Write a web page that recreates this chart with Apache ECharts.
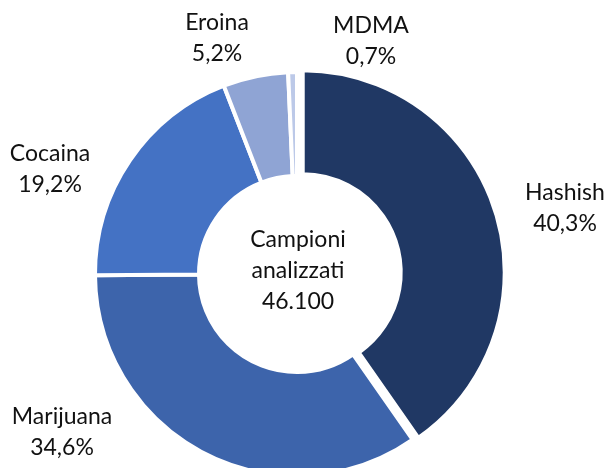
<!DOCTYPE html>
<html>
<head>
<meta charset="utf-8">
<script src="https://cdn.jsdelivr.net/npm/echarts@6/dist/echarts.min.js"></script>
<style>
  html, body { margin: 0; padding: 0; background: #fff; }
  #chart { width: 605px; height: 468px; }
</style>
</head>
<body>
<div id="chart"></div>
<script>
// dati (percentuali sul totale dei campioni)
var categories = ["Hashish", "Marijuana", "Cocaina", "Eroina", "MDMA"];
var percentages = [40.3, 34.6, 19.2, 5.2, 0.7];
var colors = ["#203864", "#3d64ab", "#4472c4", "#8fa4d4", "#bcc9e8"];
var centerLines = ["Campioni", "analizzati", "46.100"];

// posizione delle etichette (centro del testo)
var labelX = [565, 62, 50, 217, 371];
var labelY = [208, 432, 169, 38, 41];

var pieData = categories.map(function (name, i) {
  return { name: name, value: percentages[i] };
});

var chart = echarts.init(document.getElementById("chart"));

chart.setOption({
  animation: false,
  color: colors,
  textStyle: { fontFamily: "Lato" },
  graphic: [
    {
      type: "text",
      x: 298,
      y: 271,
      style: {
        text: centerLines.join("\n"),
        fontFamily: "Lato",
        fontSize: 23,
        lineHeight: 31,
        fill: "#111",
        textAlign: "center",
        textVerticalAlign: "middle",
      },
    },
  ],
  series: [
    {
      // anello con Hashish staccato
      type: "pie",
      center: [297, 274],
      radius: [98, 202],
      startAngle: 90,
      selectedMode: "single",
      selectedOffset: 6,
      silent: true,
      itemStyle: {
        borderColor: "#fff",
        borderWidth: 4,
      },
      label: { show: false },
      labelLine: { show: false },
      data: pieData.map(function (d, i) {
        return { name: d.name, value: d.value, selected: i === 0 };
      }),
    },
    {
      // solo etichette
      type: "pie",
      center: [297, 274],
      radius: [98, 202],
      startAngle: 90,
      silent: true,
      z: 3,
      itemStyle: { color: "rgba(0,0,0,0)", borderWidth: 0 },
      label: {
        show: true,
        overflow: "none",
        fontFamily: "Lato",
        fontSize: 23,
        lineHeight: 31,
        color: "#111",
        formatter: function (p) {
          return p.name + "\n" + p.value.toFixed(1).replace(".", ",") + "%";
        },
      },
      labelLine: { show: false },
      labelLayout: function (params) {
        return {
          x: labelX[params.dataIndex],
          y: labelY[params.dataIndex],
          align: "center",
          verticalAlign: "middle",
        };
      },
      data: pieData,
    },
  ],
});
</script>
</body>
</html>
